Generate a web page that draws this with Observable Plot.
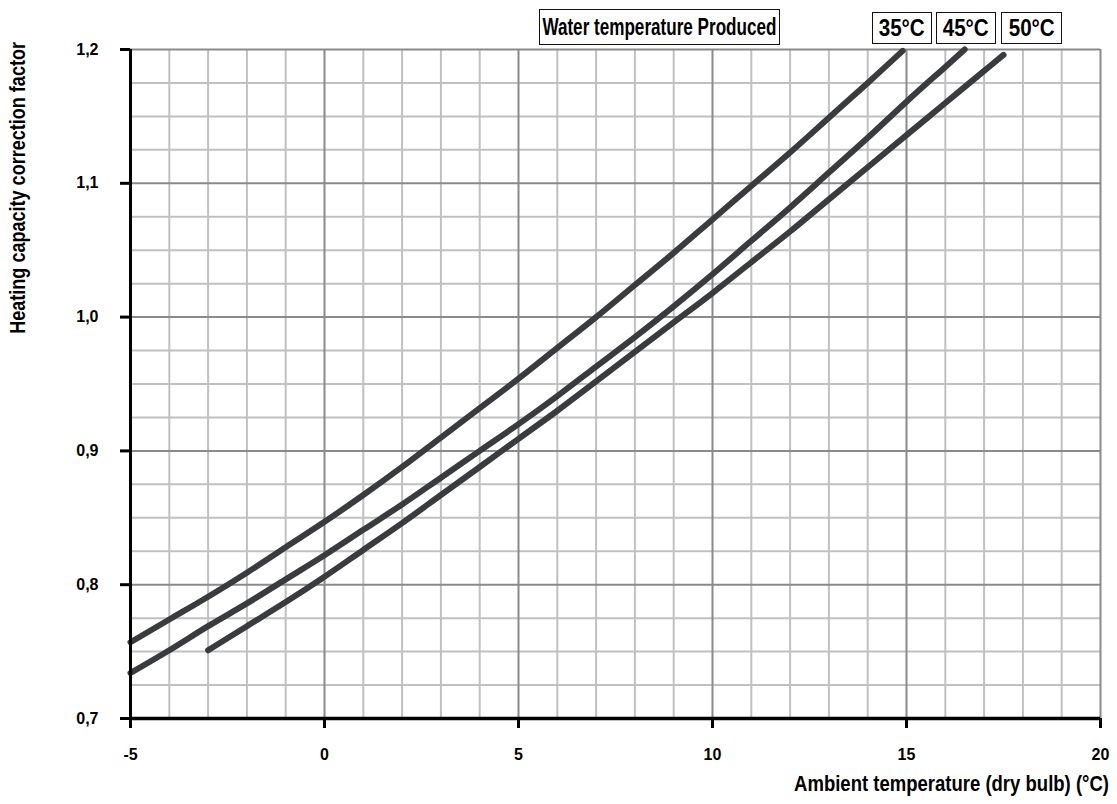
<!DOCTYPE html>
<html><head><meta charset="utf-8">
<script src="https://cdn.jsdelivr.net/npm/d3@7"></script>
<script src="https://cdn.jsdelivr.net/npm/@observablehq/plot@0.6"></script>
<style>
body{margin:0;background:#fff;}
#wrap{position:relative;width:1117px;height:804px;}
.box{position:absolute;border:1.5px solid #111;font-family:"Liberation Sans",Arial,sans-serif;font-weight:bold;font-size:23px;display:flex;align-items:center;justify-content:center;box-sizing:border-box;background:#fff;color:#000;white-space:nowrap;overflow:visible;}
.box span{display:inline-block;transform-origin:center center;}
</style></head><body><div id="wrap"></div>
<script>
// Water temperature produced (series)
const seriesNames = ["35°C", "45°C", "50°C"];
const legendTitle = "Water temperature Produced";

// 35°C
const ambient35 = [-5, -4, -3, -2, -1, 0, 1, 2, 3, 4, 5, 6, 7, 8, 9, 10, 11, 12, 13, 14, 14.9];
const factor35  = [0.757, 0.774, 0.791, 0.809, 0.828, 0.847, 0.867, 0.888, 0.910, 0.932, 0.954, 0.977, 1.000, 1.024, 1.048, 1.073, 1.098, 1.123, 1.149, 1.175, 1.199];
// 45°C
const ambient45 = [-5, -4, -3, -2, -1, 0, 1, 2, 3, 4, 5, 6, 7, 8, 9, 10, 11, 12, 13, 14, 15, 16, 16.5];
const factor45  = [0.734, 0.751, 0.769, 0.786, 0.804, 0.822, 0.841, 0.860, 0.880, 0.900, 0.920, 0.941, 0.963, 0.985, 1.008, 1.032, 1.057, 1.082, 1.108, 1.134, 1.161, 1.187, 1.200];
// 50°C
const ambient50 = [-3, -2, -1, 0, 1, 2, 3, 4, 5, 6, 7, 8, 9, 10, 11, 12, 13, 14, 15, 16, 17, 17.5];
const factor50  = [0.751, 0.769, 0.787, 0.806, 0.826, 0.846, 0.867, 0.888, 0.909, 0.930, 0.952, 0.974, 0.996, 1.018, 1.041, 1.064, 1.088, 1.112, 1.136, 1.160, 1.184, 1.196];

// Axes
const xTicks = [-5, 0, 5, 10, 15, 20];
const yTicks = [0.7, 0.8, 0.9, 1.0, 1.1, 1.2];
const xLabel = "Ambient temperature (dry bulb) (°C)";
const yLabel = "Heating capacity correction factor";

const table = [];
[[ambient35, factor35], [ambient45, factor45], [ambient50, factor50]].forEach(([xs, ys], i) => {
  xs.forEach((x, j) => table.push({series: seriesNames[i], ambient: x, factor: ys[j]}));
});

const xMinor = d3.range(-4, 20, 1).filter(v => !xTicks.includes(v));
const yMinor = d3.range(0, 21).map(i => +(0.7 + i * 0.025).toFixed(3)).filter(v => !yTicks.some(t => Math.abs(t - v) < 1e-9));

const chart = Plot.plot({
  width: 1117,
  height: 804,
  marginLeft: 130,
  marginRight: 17,
  marginTop: 49,
  marginBottom: 86,
  x: {domain: [-5, 20]},
  y: {domain: [0.7, 1.2]},
  style: {fontFamily: '"Liberation Sans",Arial,sans-serif', fontWeight: "bold", fontSize: "16px", color: "#000", background: "#fff"},
  marks: [
    Plot.ruleX(xMinor, {stroke: "#c0c0c0", strokeWidth: 2}),
    Plot.ruleY(yMinor, {stroke: "#c0c0c0", strokeWidth: 2}),
    Plot.ruleX(xTicks.slice(1), {stroke: "#8a8a8a", strokeWidth: 2}),
    Plot.ruleY(yTicks.slice(1), {stroke: "#8a8a8a", strokeWidth: 2}),
    Plot.line(table, {x: "ambient", y: "factor", z: "series", stroke: "#3a3b3f", strokeWidth: 6, strokeLinecap: "round", strokeLinejoin: "round", curve: "catmull-rom"}),
    Plot.ruleX([-5], {stroke: "#000", strokeWidth: 3}),
    Plot.ruleY([0.7], {stroke: "#000", strokeWidth: 3.5}),
    Plot.axisX({ticks: xTicks, tickSize: 10, tickPadding: 20, tickFormat: d => String(d), stroke: "#000", strokeWidth: 3, label: null}),
    Plot.axisY({ticks: yTicks, tickSize: 10, tickPadding: 22, tickFormat: d => d.toFixed(1).replace(".", ","), stroke: "#000", strokeWidth: 3, label: null})
  ]
});

const wrap = document.getElementById("wrap");
wrap.appendChild(chart);

// Axis titles, condensed along the reading direction like the original narrow typeface
const measure = document.createElement("canvas").getContext("2d");
function naturalWidth(text, size) {
  measure.font = `bold ${size}px "Liberation Sans", Arial, sans-serif`;
  return measure.measureText(text).width || text.length * size * 0.58;
}
const svg = d3.select(chart);
const titleSize = 22;
svg.append("text")
  .attr("transform", `translate(17,42) rotate(-90) scale(${292 / naturalWidth(yLabel, titleSize)},1)`)
  .attr("text-anchor", "end")
  .attr("dy", "0.35em")
  .attr("font-family", '"Liberation Sans",Arial,sans-serif')
  .attr("font-weight", "bold")
  .attr("font-size", titleSize)
  .attr("fill", "#000")
  .text(yLabel);
svg.append("text")
  .attr("transform", `translate(1109,791) scale(${315 / naturalWidth(xLabel, titleSize)},1)`)
  .attr("text-anchor", "end")
  .attr("font-family", '"Liberation Sans",Arial,sans-serif')
  .attr("font-weight", "bold")
  .attr("font-size", titleSize)
  .attr("fill", "#000")
  .text(xLabel);

function addBox(text, left, top, w, h, inkWidth) {
  const d = document.createElement("div");
  d.className = "box";
  Object.assign(d.style, {left: left + "px", top: top + "px", width: w + "px", height: h + "px"});
  const s = document.createElement("span");
  s.textContent = text;
  d.appendChild(s);
  wrap.appendChild(d);
  const natural = s.getBoundingClientRect().width;
  s.style.transform = `scaleX(${inkWidth / natural})`;
}
addBox(legendTitle, 539, 9, 241, 36, 234);
addBox(seriesNames[0], 872, 12, 60, 32, 46);
addBox(seriesNames[1], 936, 12, 60, 32, 46);
addBox(seriesNames[2], 1001, 12, 61, 32, 46);
</script></body></html>
